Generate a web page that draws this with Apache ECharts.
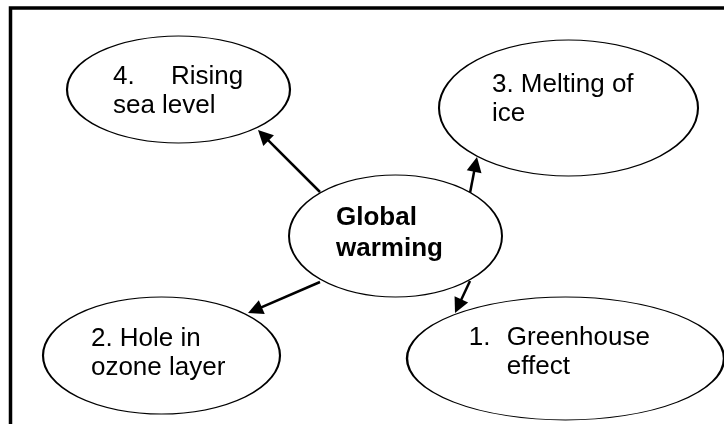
<!DOCTYPE html>
<html>
<head>
<meta charset="utf-8">
<script src="https://cdn.jsdelivr.net/npm/echarts@6/dist/echarts.min.js"></script>
<style>
  html, body { margin: 0; padding: 0; background: #fff; }
  #main { width: 724px; height: 424px; }
</style>
</head>
<body>
<div id="main"></div>
<script>
// bubbles (centre of each ellipse, in page pixels, y goes down)
var bubbleNames = ['Global warming', '1. Greenhouse effect', '2. Hole in ozone layer', '3. Melting of ice', '4. Rising sea level'];
var bubbleX = [395.5, 565.5, 161.5, 568.5, 178.5];
var bubbleY = [236, 358.5, 355.5, 108, 89.5];
var bubbleText = [
    '{b|Global}\n{b|warming}',
    '{n1|1.}{t|Greenhouse}\n{n1| }{t|effect}',
    '{t|2. Hole in}\n{t|ozone layer}',
    '{t|3. Melting of}\n{t|ice}',
    '{n4|4.}{t|Rising}\n{t|sea level}'
];

// arrows, from the edge of the centre bubble to the tip at the outer bubble
var arrowFromX = [470, 320, 470, 320];
var arrowFromY = [281, 282, 193, 192];
var arrowToX = [455, 248, 477, 258];
var arrowToY = [313, 313, 157, 130];

// layout only
var bubbleSize = [[213, 122], [317, 123], [237, 117], [259, 136], [223, 107]];
var textAnchor = [[337, 227], [470, 347], [92, 348], [493, 94], [114, 86]]; // left x, first baseline
var FONT = 26;
var LH = 29;
var HEAD = 15;

var myChart = echarts.init(document.getElementById('main'));

var ellipse = 'path://M0 50A50 50 0 1 1 100 50A50 50 0 1 1 0 50Z';

var bubbles = bubbleNames.map(function (name, i) {
    var w = bubbleSize[i][0], h = bubbleSize[i][1];
    var lh = i === 0 ? 31 : LH;
    var top = textAnchor[i][1] - 0.3465 * FONT - lh / 2;
    return {
        name: name,
        value: [bubbleX[i], bubbleY[i]],
        symbolSize: [w, h],
        label: {
            position: [textAnchor[i][0] - (bubbleX[i] - w / 2), top - (bubbleY[i] - h / 2)],
            formatter: bubbleText[i]
        }
    };
});

// pull each arrow end back by half the head so the triangle tip lands on the edge
var arrows = arrowToX.map(function (tx, i) {
    var dx = tx - arrowFromX[i], dy = arrowToY[i] - arrowFromY[i];
    var len = Math.sqrt(dx * dx + dy * dy);
    var k = (len - HEAD / 2) / len;
    return {
        coords: [
            [arrowFromX[i], arrowFromY[i]],
            [arrowFromX[i] + dx * k, arrowFromY[i] + dy * k]
        ]
    };
});

var txt = { fontFamily: 'Liberation Sans, Arial, sans-serif', fontSize: FONT, lineHeight: LH, color: '#000' };

var option = {
    animation: false,
    backgroundColor: '#fff',
    grid: { left: 0, right: 0, top: 0, bottom: 0 },
    xAxis: { type: 'value', min: 0, max: 724, show: false },
    yAxis: { type: 'value', min: 0, max: 424, inverse: true, show: false },
    graphic: [{
        type: 'rect',
        shape: { x: 10.5, y: 8, width: 900, height: 900 },
        style: { fill: null, stroke: '#000', lineWidth: 3.5 },
        z: 10
    }],
    series: [
        {
            type: 'lines',
            coordinateSystem: 'cartesian2d',
            symbol: ['none', 'triangle'],
            symbolSize: HEAD,
            lineStyle: { color: '#000', width: 2.5, opacity: 1 },
            data: arrows,
            z: 2
        },
        {
            type: 'scatter',
            symbol: ellipse,
            itemStyle: { color: '#fff', borderColor: '#000', borderWidth: 1.5, opacity: 1 },
            label: {
                show: true,
                align: 'left',
                verticalAlign: 'top',
                rich: {
                    t: txt,
                    b: Object.assign({}, txt, { fontWeight: 'bold', lineHeight: 31 }),
                    n1: Object.assign({}, txt, { width: 38 }),
                    n4: Object.assign({}, txt, { width: 58 })
                }
            },
            emphasis: { disabled: true },
            data: bubbles,
            z: 3
        }
    ]
};

if (option && typeof option === 'object') {
    myChart.setOption(option, true);
}
</script>
</body>
</html>
